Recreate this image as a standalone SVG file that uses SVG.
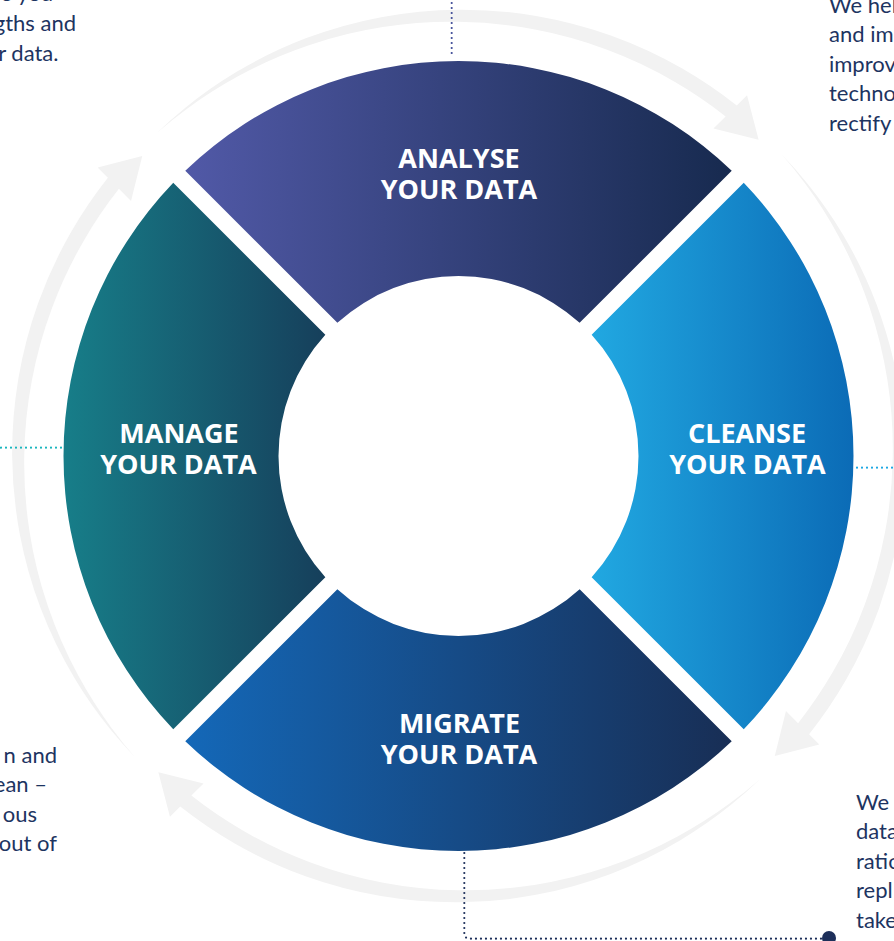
<svg xmlns="http://www.w3.org/2000/svg" width="894" height="941" viewBox="0 0 894 941">
<style>
.title{font-family:"Open Sans","Liberation Sans",sans-serif;font-weight:700;font-size:27px;fill:#ffffff;text-anchor:middle}
.body{font-family:Lato,"Liberation Sans",sans-serif;font-size:22px;fill:#1d3461}
.end{text-anchor:end}
.dots{fill:none;stroke-width:2.2;stroke-linecap:round;stroke-dasharray:0 5}
.arrow{fill:#f2f2f2}
</style>
<defs>
<linearGradient id="gAnalyse" x1="0" y1="0" x2="1" y2="0"><stop offset="0" stop-color="#5159a7"/><stop offset="1" stop-color="#172a4f"/></linearGradient>
<linearGradient id="gCleanse" x1="0" y1="0" x2="1" y2="0"><stop offset="0" stop-color="#21a8e1"/><stop offset="1" stop-color="#0b6bb6"/></linearGradient>
<linearGradient id="gMigrate" x1="0" y1="0" x2="1" y2="0"><stop offset="0" stop-color="#1468b8"/><stop offset="1" stop-color="#182e55"/></linearGradient>
<linearGradient id="gManage" x1="0" y1="0" x2="1" y2="0"><stop offset="0" stop-color="#177e89"/><stop offset="1" stop-color="#163f5b"/></linearGradient>
<path id="arrowShape" class="arrow" d="M157.06,132.74 A445,445 0 0 1 185.96,107.17 A445,445 0 0 1 236.67,71.79 A445,445 0 0 1 306.40,38.10 A446,446 0 0 1 381.12,17.15 A446,446 0 0 1 458.5,9.65 A447,447 0 0 1 536.11,15.88 A447,447 0 0 1 611.48,35.68 A447,447 0 0 1 682.26,68.44 A447,447 0 0 1 736.74,105.41 L747.05,95.18 L758.62,139.74 L713.43,128.53 L725.65,116.41 A432,432 0 0 0 674.59,81.72 A432,432 0 0 0 606.45,49.52 A433,433 0 0 0 533.74,29.31 A434,434 0 0 0 458.5,21.74 A435,435 0 0 0 382.86,27.06 A437,437 0 0 0 308.98,45.19 A439,439 0 0 0 238.96,75.76 A440,440 0 0 0 187.11,108.64 A441,441 0 0 0 157.06,132.74 Z"/>
</defs>
<g id="cycle-arrows">
<use href="#arrowShape"/>
<use href="#arrowShape" transform="rotate(90 458.5 456)"/>
<use href="#arrowShape" transform="rotate(180 458.5 456)"/>
<use href="#arrowShape" transform="rotate(270 458.5 456)"/>
</g>
<g id="connectors">
<path class="dots" stroke="#3d4a96" d="M451.7,3 V58"/>
<path class="dots" stroke="#1bb5be" d="M1,447.7 H62"/>
<path class="dots" stroke="#1ea8e4" d="M857,467.7 H894"/>
<path class="dots" stroke="#1d2f5a" d="M464.3,853 V933 Q464.3,938.7 470,938.7 H822"/>
<circle cx="829" cy="938" r="7" fill="#1d2f5a"/>
</g>
<g id="analyse">
<path fill="url(#gAnalyse)" d="M185.27,170.75 A395,395 0 0 1 731.73,170.75 L579.63,322.85 A180,180 0 0 0 337.37,322.85 Z"/>
<text class="title"><tspan x="459" y="168">ANALYSE</tspan><tspan x="459" y="199">YOUR DATA</tspan></text>
</g>
<g id="cleanse">
<path fill="url(#gCleanse)" d="M743.75,182.77 A395,395 0 0 1 743.75,729.23 L591.65,577.13 A180,180 0 0 0 591.65,334.87 Z"/>
<text class="title"><tspan x="747" y="443">CLEANSE</tspan><tspan x="747.5" y="474">YOUR DATA</tspan></text>
</g>
<g id="migrate">
<path fill="url(#gMigrate)" d="M731.73,741.25 A395,395 0 0 1 185.27,741.25 L337.37,589.15 A180,180 0 0 0 579.63,589.15 Z"/>
<text class="title"><tspan x="459.5" y="733">MIGRATE</tspan><tspan x="459" y="764">YOUR DATA</tspan></text>
</g>
<g id="manage">
<path fill="url(#gManage)" d="M173.25,729.23 A395,395 0 0 1 173.25,182.77 L325.35,334.87 A180,180 0 0 0 325.35,577.13 Z"/>
<text class="title"><tspan x="179" y="443">MANAGE</tspan><tspan x="178.5" y="474">YOUR DATA</tspan></text>
</g>
<g id="desc-analyse">
<text class="body end" x="53" y="1.4">e you</text>
<text class="body end" x="76" y="31">gths and</text>
<text class="body end" x="58.5" y="60.6">r data.</text>
</g>
<g id="desc-cleanse">
<text class="body" x="829" y="12.6">We hel</text>
<text class="body" x="829" y="42.2">and im</text>
<text class="body" x="829" y="71.8">improv</text>
<text class="body" x="829" y="101.4">techno</text>
<text class="body" x="829" y="131">rectify</text>
</g>
<g id="desc-manage">
<text class="body end" x="57" y="762.5">n and</text>
<text class="body end" x="47" y="792">ean –</text>
<text class="body end" x="37" y="821.6">ous</text>
<text class="body end" x="57" y="851.2">out of</text>
</g>
<g id="desc-migrate">
<text class="body" x="856" y="809.5">We</text>
<text class="body" x="856" y="839.2">data</text>
<text class="body" x="856" y="868.8">ratio</text>
<text class="body" x="856" y="898.4">repl</text>
<text class="body" x="856" y="928">take</text>
</g>
</svg>
